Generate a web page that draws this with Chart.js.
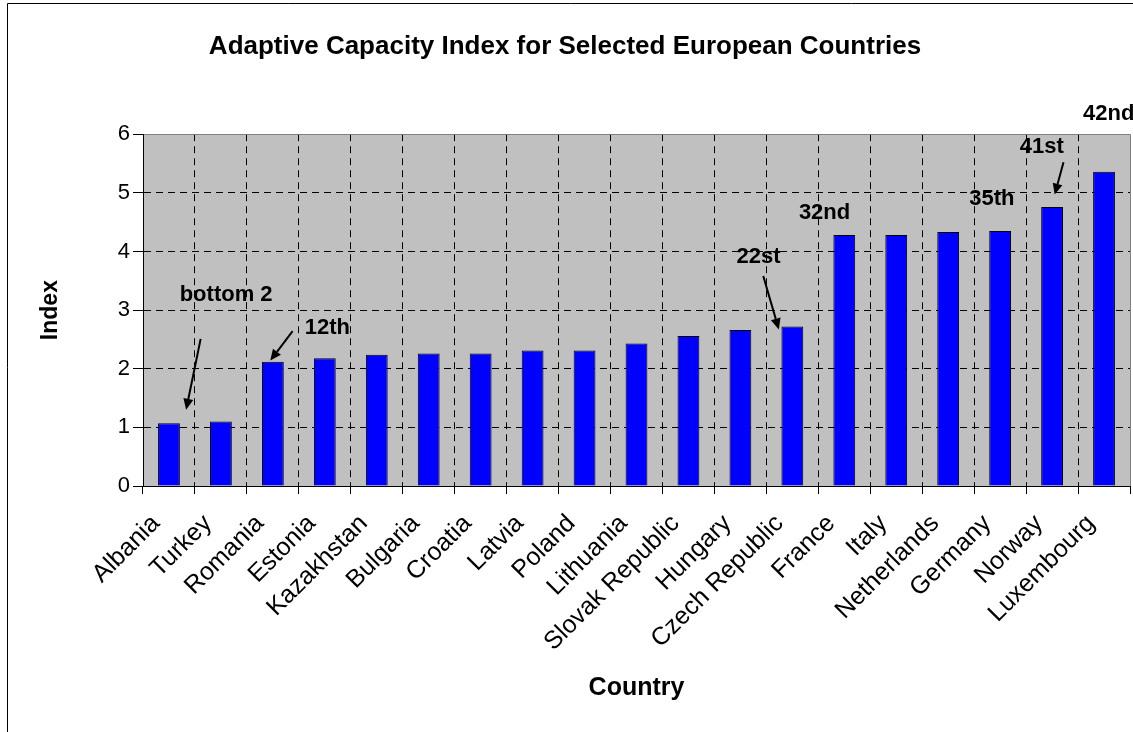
<!DOCTYPE html>
<html>
<head>
<meta charset="utf-8">
<script src="https://cdn.jsdelivr.net/npm/chart.js"></script>
<style>
  html, body { margin: 0; padding: 0; background: #fff; }
  #wrap { width: 1133px; height: 732px; }
</style>
</head>
<body>
<div id="wrap"><canvas id="chart" width="1133" height="732"></canvas></div>
<script>
// Datos
const countries = ['Albania', 'Turkey', 'Romania', 'Estonia', 'Kazakhstan', 'Bulgaria', 'Croatia',
  'Latvia', 'Poland', 'Lithuania', 'Slovak Republic', 'Hungary', 'Czech Republic', 'France',
  'Italy', 'Netherlands', 'Germany', 'Norway', 'Luxembourg'];
const indexValues = [1.07, 1.10, 2.12, 2.18, 2.24, 2.26, 2.26, 2.31, 2.31, 2.43, 2.56, 2.66, 2.72,
  4.28, 4.28, 4.33, 4.35, 4.76, 5.36];
const yMin = 0;
const yMax = 6;

// Etiquetas de ranking (texto) y su ancla en coordenadas de datos (índice de categoría, valor)
const rankLabels = ['bottom 2', '12th', '22st', '32nd', '35th', '41st', '42nd'];
const rankAnchors = [[1.10, 3.26], [3.05, 2.70], [11.35, 3.90], [12.62, 4.65], [15.84, 4.89], [16.80, 5.79], [18.09, 6.34]];
// Flechas: desde / hasta, en coordenadas de datos
const rankArrows = [
  [[0.61, 2.51], [0.33, 1.30]],
  [[2.38, 2.64], [1.95, 2.14]],
  [[11.44, 3.58], [11.74, 2.67]],
  [[17.22, 5.52], [17.05, 4.97]]
];

const FONT = "'Liberation Sans', Arial, sans-serif";
const NONE = 'rgba(0,0,0,0)';

// Fondo gris del área de trazado y marco exterior
const plotBg = {
  id: 'plotBg',
  beforeDraw(chart) {
    const { ctx, chartArea: a } = chart;
    ctx.save();
    ctx.fillStyle = '#C0C0C0';
    ctx.fillRect(a.left, a.top, a.right - a.left, a.bottom - a.top);
    ctx.restore();
  },
  afterDraw(chart) {
    const { ctx, chartArea: a } = chart;
    const l = Math.round(a.left), r = Math.round(a.right);
    const t = Math.round(a.top), b = Math.round(a.bottom);
    ctx.save();
    ctx.lineWidth = 1;
    // borde gris del área de trazado (arriba y derecha)
    ctx.strokeStyle = '#808080';
    ctx.beginPath();
    ctx.moveTo(l, t + 0.5);
    ctx.lineTo(r + 0.5, t + 0.5);
    ctx.lineTo(r + 0.5, b);
    ctx.stroke();
    // ejes sólidos izquierda y abajo
    ctx.strokeStyle = '#000';
    ctx.beginPath();
    ctx.moveTo(l + 0.5, t);
    ctx.lineTo(l + 0.5, b + 0.5);
    ctx.lineTo(r + 1, b + 0.5);
    ctx.stroke();
    // marco del gráfico
    ctx.beginPath();
    ctx.moveTo(7.5, 732);
    ctx.lineTo(7.5, 3.5);
    ctx.lineTo(1133, 3.5);
    ctx.stroke();
    ctx.restore();
  }
};

// Etiquetas de ranking con flechas
const rankNotes = {
  id: 'rankNotes',
  afterDraw(chart) {
    const { ctx } = chart;
    const xs = chart.scales.x, ys = chart.scales.y;
    const px = v => xs.getPixelForValue(v);
    const py = v => ys.getPixelForValue(v);
    ctx.save();
    ctx.fillStyle = '#000';
    ctx.font = 'bold 22px ' + FONT;
    ctx.textAlign = 'center';
    ctx.textBaseline = 'middle';
    rankLabels.forEach((t, i) => {
      ctx.fillText(t, px(rankAnchors[i][0]), py(rankAnchors[i][1]));
    });
    ctx.strokeStyle = '#000';
    ctx.lineWidth = 2;
    rankArrows.forEach(([from, to]) => {
      const x1 = px(from[0]), y1 = py(from[1]);
      const x2 = px(to[0]), y2 = py(to[1]);
      const ang = Math.atan2(y2 - y1, x2 - x1);
      const head = 11;
      const bx = x2 - head * Math.cos(ang), by = y2 - head * Math.sin(ang);
      ctx.beginPath();
      ctx.moveTo(x1, y1);
      ctx.lineTo(bx, by);
      ctx.stroke();
      ctx.beginPath();
      ctx.moveTo(x2, y2);
      ctx.lineTo(bx + 5 * Math.cos(ang + Math.PI / 2), by + 5 * Math.sin(ang + Math.PI / 2));
      ctx.lineTo(bx + 5 * Math.cos(ang - Math.PI / 2), by + 5 * Math.sin(ang - Math.PI / 2));
      ctx.closePath();
      ctx.fill();
    });
    ctx.restore();
  }
};

new Chart(document.getElementById('chart').getContext('2d'), {
  type: 'bar',
  data: {
    labels: countries,
    datasets: [{
      label: 'Index',
      data: indexValues,
      backgroundColor: '#0000FF',
      borderColor: '#000',
      borderWidth: 1,
      categoryPercentage: 1,
      barPercentage: 0.42
    }]
  },
  options: {
    responsive: false,
    animation: false,
    layout: { padding: { left: 0, right: 3, top: 0, bottom: 0 } },
    plugins: {
      legend: { display: false },
      tooltip: { enabled: false },
      title: {
        display: true,
        text: 'Adaptive Capacity Index for Selected European Countries',
        color: '#000',
        font: { family: FONT, size: 26, weight: 'bold' },
        padding: { top: 31, bottom: 72 }
      }
    },
    scales: {
      x: {
        // altura fija y sin relleno lateral extra por las etiquetas giradas
        afterFit: s => { s.height = 246; s.paddingLeft = 0; s.paddingRight = 0; },
        grid: {
          offset: true,
          color: c => (c.index === undefined || c.index === 0) ? NONE : '#000',
          tickBorderDash: [],
          tickLength: 8,
          tickColor: '#000',
          drawOnChartArea: true
        },
        border: { display: true, color: '#000', width: 1, dash: [7, 5] },
        ticks: {
          color: '#000',
          font: { family: FONT, size: 25 },
          minRotation: 45,
          maxRotation: 45,
          autoSkip: false,
          padding: 15,
          labelOffset: -13
        },
        title: {
          display: true,
          text: 'Country',
          color: '#000',
          font: { family: FONT, size: 25, weight: 'bold' },
          padding: { top: 0, bottom: 29 }
        }
      },
      y: {
        min: yMin,
        max: yMax,
        afterFit: s => { s.width = 143; },
        grid: {
          color: c => (c.tick && (c.tick.value === yMax || c.tick.value === yMin)) ? NONE : '#000',
          tickBorderDash: [],
          tickLength: 10,
          tickColor: '#000'
        },
        border: { display: true, color: '#000', width: 1, dash: [7, 5] },
        ticks: {
          stepSize: 1,
          color: '#000',
          font: { family: FONT, size: 22 },
          padding: 3
        },
        title: {
          display: true,
          text: 'Index',
          color: '#000',
          font: { family: FONT, size: 23, weight: 'bold' },
          padding: { top: 37, bottom: 0 }
        }
      }
    }
  },
  plugins: [plotBg, rankNotes]
});
</script>
</body>
</html>
